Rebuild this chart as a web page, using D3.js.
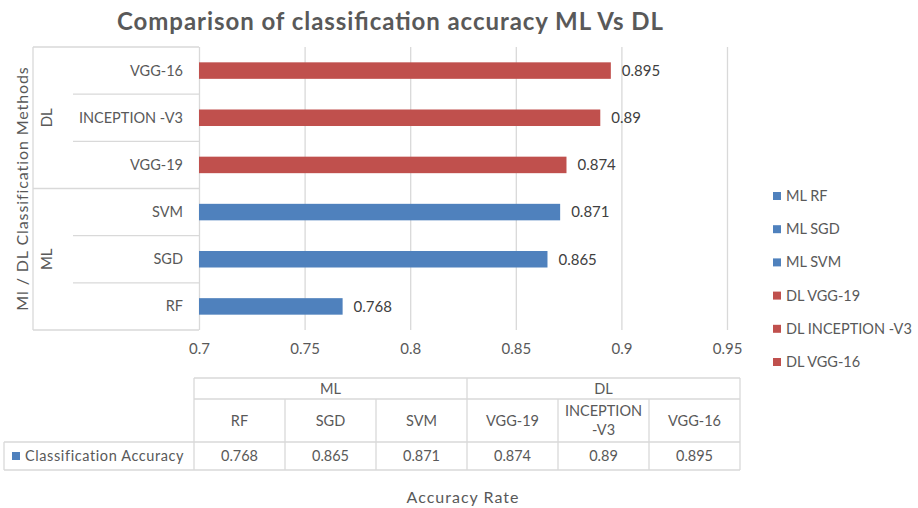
<!DOCTYPE html>
<html>
<head>
<meta charset="utf-8">
<script src="https://cdn.jsdelivr.net/npm/d3@7"></script>
<style>
  body { margin: 0; background: #fff; }
  svg { font-family: Lato, "Liberation Sans", sans-serif; }
</style>
</head>
<body>
<div id="chart"></div>
<script>
// data
const groups = ["ML", "ML", "ML", "DL", "DL", "DL"]
const methods = ["RF", "SGD", "SVM", "VGG-19", "INCEPTION -V3", "VGG-16"]
const accuracy = [0.768, 0.865, 0.871, 0.874, 0.89, 0.895]
const groupNames = ["ML", "DL"]
const xTicks = [0.7, 0.75, 0.8, 0.85, 0.9, 0.95]
const rowLabel = "Classification Accuracy"

const blue = "#4f81bd"
const red = "#c0504d"
const grid = "#d9d9d9"
const textCol = "#595959"

const dataset = methods.map((m, i) => ({ method: m, group: groups[i], value: accuracy[i] }))
const colorOf = g => g === "ML" ? blue : red

const width = 918, height = 508
const plot = { left: 199, right: 727, top: 47, bottom: 330 }

const svg = d3.select("#chart").append("svg")
    .attr("width", width)
    .attr("height", height)

// title
svg.append("text")
    .attr("x", 390)
    .attr("y", 30)
    .attr("text-anchor", "middle")
    .attr("font-size", 24)
    .attr("font-weight", "bold")
    .attr("fill", textCol)
    .attr("textLength", 546)
    .attr("lengthAdjust", "spacing")
    .text("Comparison of classification accuracy ML Vs DL")

// scales
const xScale = d3.scaleLinear()
    .domain([0.7, 0.95])
    .range([plot.left, plot.right])

const yScale = d3.scaleBand()
    .domain(methods.slice().reverse())
    .range([plot.top, plot.bottom])
    .paddingInner(0.65)
    .paddingOuter(0.325)

// gridlines
const gridAxis = svg.append("g")
    .attr("transform", `translate(0, ${plot.bottom})`)
    .call(d3.axisBottom(xScale).tickValues(xTicks).tickSize(-(plot.bottom - plot.top)).tickFormat(""))
gridAxis.select(".domain").remove()
gridAxis.selectAll(".tick line").attr("stroke", grid).attr("stroke-width", 1.3)

// x tick labels
const xAxis = svg.append("g")
    .attr("transform", `translate(0, ${plot.bottom + 10})`)
    .call(d3.axisBottom(xScale).tickValues(xTicks).tickSize(0).tickFormat(d => d))
xAxis.select(".domain").remove()
xAxis.selectAll("text")
    .attr("font-size", 15)
    .attr("fill", textCol)
    .attr("font-family", "Lato, sans-serif")

// bars
svg.selectAll("rect.bar")
    .data(dataset)
    .enter()
    .append("rect")
    .attr("class", "bar")
    .attr("x", xScale(0.7))
    .attr("y", d => yScale(d.method))
    .attr("width", d => xScale(d.value) - xScale(0.7))
    .attr("height", yScale.bandwidth())
    .attr("fill", d => colorOf(d.group))

// data labels
svg.selectAll("text.val")
    .data(dataset)
    .enter()
    .append("text")
    .attr("class", "val")
    .attr("x", d => xScale(d.value) + 11)
    .attr("y", d => yScale(d.method) + yScale.bandwidth() / 2)
    .attr("dy", "0.35em")
    .attr("font-size", 15)
    .attr("fill", "#404040")
    .text(d => d.value)

// category axis (multi level)
const step = yScale.step()
const edge = i => plot.top + i * step
const catAxis = svg.append("g")
d3.range(methods.length + 1).forEach(i => {
    const isGroupEdge = i === 0 || i === methods.length || i === 3
    catAxis.append("line")
        .attr("x1", isGroupEdge ? 33 : 73)
        .attr("x2", plot.left)
        .attr("y1", edge(i))
        .attr("y2", edge(i))
        .attr("stroke", grid)
        .attr("stroke-width", 1.3)
})
catAxis.append("line")
    .attr("x1", 33).attr("x2", 33)
    .attr("y1", plot.top).attr("y2", plot.bottom)
    .attr("stroke", grid).attr("stroke-width", 1.3)

catAxis.selectAll("text.cat")
    .data(dataset)
    .enter()
    .append("text")
    .attr("class", "cat")
    .attr("x", 183)
    .attr("y", d => yScale(d.method) + yScale.bandwidth() / 2)
    .attr("dy", "0.35em")
    .attr("text-anchor", "end")
    .attr("font-size", 14.5)
    .attr("fill", textCol)
    .text(d => d.method)

groupNames.forEach(g => {
    const idx = methods.filter((m, i) => groups[i] === g).map(m => yScale(m))
    const cy = (d3.min(idx) + d3.max(idx) + yScale.bandwidth()) / 2
    catAxis.append("text")
        .attr("transform", `translate(47, ${cy}) rotate(-90)`)
        .attr("text-anchor", "middle")
        .attr("dy", "0.35em")
        .attr("font-size", 15)
        .attr("fill", textCol)
        .text(g)
})

// y axis title
svg.append("text")
    .attr("transform", `translate(22, ${(plot.top + plot.bottom) / 2}) rotate(-90)`)
    .attr("text-anchor", "middle")
    .attr("dy", "0.35em")
    .attr("font-size", 16)
    .attr("letter-spacing", 0.9)
    .attr("fill", textCol)
    .text("Ml / DL Classification Methods")

// data table
const tbl = { left: 194, right: 740, top: 378, mid: 399, row: 442, bottom: 470, keyLeft: 4 }
const colW = (tbl.right - tbl.left) / methods.length
const table = svg.append("g")
const tline = (x1, y1, x2, y2) => table.append("line")
    .attr("x1", x1).attr("y1", y1).attr("x2", x2).attr("y2", y2)
    .attr("stroke", grid).attr("stroke-width", 1.3)

tline(tbl.left, tbl.top, tbl.right, tbl.top)
tline(tbl.left, tbl.mid, tbl.right, tbl.mid)
tline(tbl.keyLeft, tbl.row, tbl.right, tbl.row)
tline(tbl.keyLeft, tbl.bottom, tbl.right, tbl.bottom)
tline(tbl.keyLeft, tbl.row, tbl.keyLeft, tbl.bottom)
d3.range(methods.length + 1).forEach(i => {
    const x = tbl.left + i * colW
    const full = i === 0 || i === 3 || i === methods.length
    tline(x, full ? tbl.top : tbl.mid, x, tbl.bottom)
})

groupNames.forEach((g, gi) => {
    table.append("text")
        .attr("x", tbl.left + colW * (gi * 3 + 1.5))
        .attr("y", (tbl.top + tbl.mid) / 2)
        .attr("dy", "0.35em")
        .attr("text-anchor", "middle")
        .attr("font-size", 14.5)
        .attr("fill", textCol)
        .text(g)
})

methods.forEach((m, i) => {
    const parts = m.split(" ")
    const cx = tbl.left + colW * (i + 0.5)
    const cy = (tbl.mid + tbl.row) / 2
    const t = table.append("text")
        .attr("text-anchor", "middle")
        .attr("font-size", 14.5)
        .attr("fill", textCol)
    parts.forEach((p, k) => {
        t.append("tspan")
            .attr("x", cx)
            .attr("y", cy + (k - (parts.length - 1) / 2) * 19)
            .attr("dy", "0.35em")
            .text(p)
    })
    table.append("text")
        .attr("x", cx)
        .attr("y", (tbl.row + tbl.bottom) / 2)
        .attr("dy", "0.35em")
        .attr("text-anchor", "middle")
        .attr("font-size", 14.5)
        .attr("fill", textCol)
        .text(accuracy[i])
})

table.append("rect")
    .attr("x", 12).attr("y", (tbl.row + tbl.bottom) / 2 - 4)
    .attr("width", 8).attr("height", 8)
    .attr("fill", blue)
table.append("text")
    .attr("x", 25)
    .attr("y", (tbl.row + tbl.bottom) / 2)
    .attr("dy", "0.35em")
    .attr("font-size", 14.5)
    .attr("letter-spacing", 0.6)
    .attr("fill", textCol)
    .text(rowLabel)

// x axis title
svg.append("text")
    .attr("x", 463)
    .attr("y", 497)
    .attr("dy", "0.35em")
    .attr("text-anchor", "middle")
    .attr("font-size", 16)
    .attr("letter-spacing", 1)
    .attr("fill", textCol)
    .text("Accuracy Rate")

// legend
const legend = svg.append("g")
    .attr("transform", "translate(773, 196)")
dataset.forEach((d, i) => {
    const row = legend.append("g").attr("transform", `translate(0, ${i * 33.2})`)
    row.append("rect")
        .attr("x", 0).attr("y", -4)
        .attr("width", 8).attr("height", 8)
        .attr("fill", colorOf(d.group))
    row.append("text")
        .attr("x", 13)
        .attr("dy", "0.35em")
        .attr("font-size", 14.5)
        .attr("fill", textCol)
        .text(d.group + " " + d.method)
})
</script>
</body>
</html>
